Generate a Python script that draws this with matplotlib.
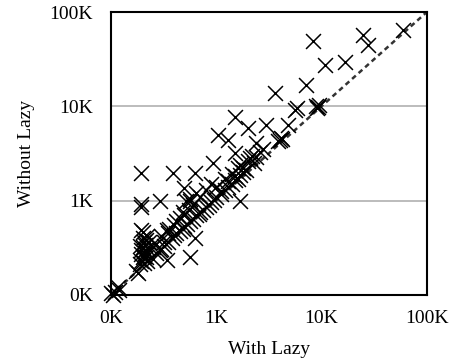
import matplotlib
matplotlib.use("Agg")
import matplotlib.pyplot as plt

plt.rcParams['font.family'] = ['Liberation Serif', 'DejaVu Serif']

# runtime with / without lazy
with_lazy = [
    100, 105, 117, 120, 175, 180, 110,
    292, 390, 630, 500, 195, 195, 195, 195, 200, 338, 560, 292, 630, 338,
    1680, 930, 1510, 1050, 1300, 2000, 1510, 3000, 2400, 3600, 4800, 5600,
    5800, 7200, 8300, 10700, 16600, 24700, 27500, 59000, 8900, 9200, 9500,
    9000, 4000, 4100, 3900, 4200, 2100, 2200, 2000, 2300, 2400, 2600, 2800,
    190, 195, 200, 205, 210, 195, 200, 210, 205, 215, 200, 220, 210, 195,
    215, 220, 205, 190, 225, 230,
    250, 270, 300, 320, 350, 380, 400, 420, 450, 480, 500, 530, 560, 600,
    640, 680, 700, 750, 800, 850, 900, 950, 1000, 1100, 1200, 1300, 1400,
    1500, 1600, 1700, 1800, 1900,
    300, 350, 400, 450, 500, 550, 600, 700, 800, 900, 1000, 1200, 1400,
    320, 360, 420, 480, 560, 640, 250, 270, 1100, 1300, 1500, 1600, 1700,
    1800, 520, 560,
]
without_lazy = [
    105, 100, 120, 112, 177, 170, 108,
    1000, 1950, 1950, 1350, 1950, 920, 850, 490, 460, 235, 253, 300, 400, 490,
    1000, 2500, 7750, 5000, 4400, 5900, 3200, 6300, 4100, 14000, 6300, 9100,
    9500, 17000, 49000, 27500, 29500, 57000, 45000, 65000, 10000, 9800, 10200,
    9600, 4400, 4600, 4300, 4500, 2800, 3000, 2600, 2500, 2900, 3300, 3500,
    210, 230, 250, 260, 280, 300, 320, 340, 360, 380, 400, 420, 300, 270,
    250, 230, 220, 330, 310, 360,
    240, 280, 310, 330, 360, 400, 430, 450, 470, 500, 540, 560, 600, 640,
    700, 720, 760, 800, 850, 900, 960, 1020, 1080, 1180, 1300, 1400, 1500,
    1650, 1700, 1850, 2000, 2100,
    420, 450, 550, 650, 700, 800, 900, 1100, 1300, 1500, 1400, 1700, 1900,
    360, 500, 600, 760, 1000, 1200, 320, 350, 1250, 1600, 1800, 2200, 2400,
    2200, 1000, 1050,
]
ticks = [100, 1000, 10000, 100000]
tick_labels = ['0K', '1K', '10K', '100K']

fig = plt.figure(figsize=(4.58, 3.64), dpi=100)
ax = fig.add_axes([0.242, 0.19, 0.69, 0.777])

ax.plot(ticks, ticks, linestyle=(0, (2, 1.5)), color='#333333', linewidth=1.8, zorder=1)
ax.scatter(with_lazy, without_lazy, marker='x', s=115, color='black', linewidths=1.1,
           zorder=3, clip_on=False)

ax.set_xscale('log')
ax.set_yscale('log')
ax.set_xlim(100, 100000)
ax.set_ylim(100, 100000)
ax.set_xticks(ticks)
ax.set_xticklabels(tick_labels)
ax.set_yticks(ticks)
ax.set_yticklabels(tick_labels)
ax.minorticks_off()
ax.tick_params(axis='x', length=0, labelsize=14, pad=11)
ax.tick_params(axis='y', length=0, labelsize=14, pad=13)
for y in [1000, 10000]:
    ax.axhline(y, color='#b0b0b0', linewidth=1.2, zorder=0)
for s in ax.spines.values():
    s.set_linewidth(1.5)
    s.set_color('black')

ax.set_xlabel('With Lazy', fontsize=14, labelpad=10)
ax.set_ylabel('Without Lazy', fontsize=14, labelpad=10)

plt.savefig('out.png', dpi=100)
